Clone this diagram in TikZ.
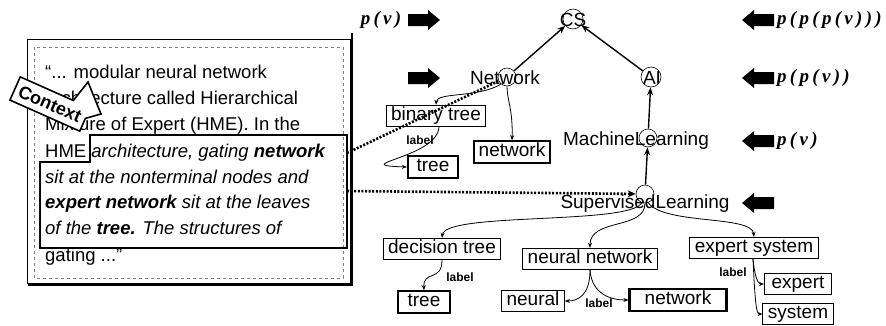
\documentclass[tikz,border=0pt]{standalone}
\usepackage{fontspec}
\setmainfont{Liberation Sans}
\newfontfamily\pfont{Liberation Serif}
\usetikzlibrary{arrows.meta,calc}
\pgfdeclarelayer{callbg}\pgfdeclarelayer{front}
\pgfsetlayers{main,callbg,front}
\newcommand\lsp{\kern3.3pt}
\newcommand\ptxt[1]{{\pfont\bfseries\itshape\fontsize{19}{19}\selectfont #1}}
\begin{document}
\begin{tikzpicture}[x=1pt,y=-1pt,
  body/.style={anchor=base west, inner sep=0pt, font=\fontsize{18.5}{26}\selectfont},
  tname/.style={inner sep=0pt, font=\fontsize{19}{19}\selectfont},
  circ/.style={circle, draw, line width=0.6pt, minimum size=18pt, inner sep=0pt},
  box/.style={draw, line width=0.9pt, font=\fontsize{19}{19}\selectfont, inner xsep=5pt, inner ysep=2pt, text height=13.5pt, text depth=4pt},
  tbox/.style={box, line width=2.2pt},
  lbl/.style={font=\bfseries\fontsize{12}{12}\selectfont, inner sep=1pt},
  edge/.style={-{Stealth[length=8pt,width=6pt]}, line width=1.4pt},
  sedge/.style={-{Stealth[length=5pt,width=4pt]}, line width=0.8pt},
  dots/.style={dash pattern=on 2pt off 1.6pt, line width=2.6pt},
  rarr/.pic={\fill (0,-6) -- (20,-6) -- (20,-10) -- (32,0) -- (20,10) -- (20,6) -- (0,6) -- cycle;},
  larr/.pic={\fill (0,-6) -- (-20,-6) -- (-20,-10) -- (-32,0) -- (-20,10) -- (-20,6) -- (0,6) -- cycle;},
  plab/.style={inner sep=0pt, anchor=west}
]
\useasboundingbox (0,0) rectangle (886,325);
\fill[white] (0,0) rectangle (886,325);

% ---------- left text box ----------
\draw[line width=0.6pt] (27,39) rectangle (350,283);
\draw[line width=2.6pt] (352,33) -- (352,285) -- (28,285);
\draw[line width=0.5pt, dashed, gray] (34,47) rectangle (343,278);

\node[body] (l1) at (45,78) {“... modular neural network};
\node[body] (l2) at (45,104) {architecture called Hierarchical};
\node[body] (l3) at (45,130) {Mixture of Expert (HME). In the};
\node[body] (l4) at (45,157) {HME \itshape architecture, gating \bfseries network};
\node[body] (l5) at (45,183) {\itshape sit at the nonterminal nodes and};
\node[body] (l6) at (45,208) {\itshape{\bfseries expert network} sit at the leaves};
\node[body] (l7) at (45,234) {\itshape of the {\bfseries tree.} The structures of};
\node[body] (l8) at (45,261) {gating ...”};

\draw[line width=1.4pt] (90,135) -- (347,135) -- (347,248) -- (40,248) -- (40,162) -- (90,162) -- cycle;

% Context callout
\begin{pgfonlayer}{front}
\node[rotate=-24, minimum width=76pt, minimum height=25pt, inner sep=0pt, font=\bfseries\fontsize{18}{18}\selectfont] (ctx) at (50,104) {Context};
\end{pgfonlayer}
\begin{pgfonlayer}{callbg}
\filldraw[fill=white, line width=1.6pt, line join=miter]
  (ctx.north west) -- ($(ctx.north west)!0.76!(ctx.north east)$) -- (88,82)
  -- (101,114) -- ($(ctx.north east)!0.45!(ctx.south east)$)
  -- (ctx.south east) -- (ctx.south west) -- cycle;
\end{pgfonlayer}

% ---------- upper tree ----------
\node[tname] (tCS) at (573,20) {CS};
\node[circ, minimum size=20pt] (cCS) at (573,19) {};
\node[tname] (tNet) at (505,78) {Network};
\node[circ] (cNet) at (507,77) {};
\node[tname] (tAI) at (652,78) {AI};
\node[circ, minimum size=20pt] (cAI) at (651,77) {};
\node[tname] (tML) at (636,141) {MachineLearning};
\node[circ] (cML) at (648,138) {};
\node[tname] (tSL) at (645,204) {SupervisedLearning};
\node[circ] (cSL) at (645,194) {};

\draw[edge] (cNet) -- (cCS);
\draw[edge] (cAI) -- (cCS);
\draw[edge] (cML) -- (cAI);
\draw[edge] (cSL) -- (cML);

% Network subtree
\node[box] (bt) at (436,116) {binary tree};
\node[tbox, minimum width=50pt] (tr1) at (433,167) {tree};
\node[tbox] (nw1) at (512,152) {network};
\draw[sedge] (cNet.230) .. controls (478,98) and (437,92) .. (bt.north);
\draw[sedge] (cNet.south) .. controls (507,100) and (513,110) .. (nw1.north);
\draw[sedge] ($(bt.south)+(3,0)$) .. controls (437,158) and (345,165) .. (tr1.west);
\node[lbl] (lb1) at (420,140) {label};

% SupervisedLearning subtree
\node[box] (dt) at (442,249) {decision tree};
\node[tbox, minimum width=52pt] (tr2) at (424,302) {tree};
\node[box] (nn) at (590,259) {neural network};
\node[box] (ne) at (533,301) {neural};
\node[tbox, minimum width=97pt] (nw2) at (678,300) {network};
\node[box] (es) at (754,248) {expert system};
\node[box, minimum width=67pt] (ex) at (798,284) {expert};
\node[box, minimum width=67pt] (sy) at (798,314) {system};

\draw[sedge] (cSL.250) .. controls (630,225) and (445,212) .. (dt.north);
\draw[sedge] (cSL.south) .. controls (645,230) and (590,218) .. (nn.north);
\draw[sedge] (cSL.290) .. controls (665,225) and (752,215) .. (es.north);
\draw[sedge] (dt.south) .. controls (442,282) and (423,270) .. (tr2.north);
\draw[sedge] (nn.south) .. controls (590,295) and (578,301) .. (ne.east);
\draw[sedge] (nn.south) .. controls (592,295) and (612,300) .. (nw2.west);
\draw[sedge] ($(es.south)+(-1,0)$) .. controls (755,278) and (758,284) .. (ex.west);
\draw[sedge] ($(es.south)+(-1,0)$) .. controls (755,300) and (756,314) .. (sy.west);
\node[lbl] (lb2) at (460,277) {label};
\node[lbl] (lb3) at (599,303) {label};
\node[lbl] (lb4) at (733,272) {label};

% dotted context links
\coordinate (hl1) at (347,153);
\coordinate (hl2) at (347,191);
\draw[dots] (hl1) -- (cNet);
\draw[dots, -{Stealth[length=8pt,width=7pt]}] (hl2) -- (cSL);

% ---------- block arrows and p labels ----------
\node[inner sep=0pt] (pl) at (381,20) {\ptxt{p\lsp(\lsp v\lsp)}};
\pic at (408,20) {rarr};
\pic at (408,78) {rarr};
\pic at (774,20) {larr};
\pic at (774,78) {larr};
\pic at (774,141) {larr};
\pic at (774,203) {larr};
\node[plab] (p3) at (777,20) {\ptxt{p\lsp(\lsp p\lsp(\lsp p\lsp(\lsp v\lsp)\lsp)\lsp)}};
\node[plab] (p2) at (777,78) {\ptxt{p\lsp(\lsp p\lsp(\lsp v\lsp)\lsp)}};
\node[plab] (p1) at (777,141) {\ptxt{p\lsp(\lsp v\lsp)}};
\end{tikzpicture}
\end{document}
